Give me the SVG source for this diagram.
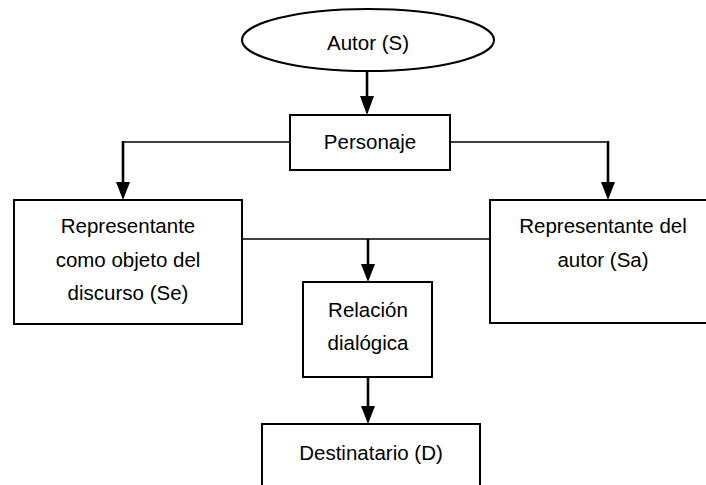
<svg xmlns="http://www.w3.org/2000/svg" width="706" height="485" viewBox="0 0 706 485">
<defs>
<style>
.n{fill:#fff;stroke:#000;stroke-width:2}
.t{font-family:"Liberation Sans",Arial,sans-serif;font-size:20.5px;fill:#000;text-anchor:middle}
.c{fill:none;stroke:#000;stroke-width:1.6}
.v{fill:none;stroke:#000;stroke-width:2.6}
.a{fill:#000;stroke:none}
</style>
</defs>
<rect width="706" height="485" fill="#fff"/>
<g id="connectors">
<line class="v" x1="367" y1="71" x2="367" y2="98"/>
<path class="a" d="M360,96 L374,96 L367,115 Z"/>
<line class="c" x1="290" y1="142" x2="123" y2="142"/>
<line class="v" x1="123" y1="141" x2="123" y2="184"/>
<path class="a" d="M116,182 L130,182 L123,200 Z"/>
<line class="c" x1="450" y1="142" x2="608" y2="142"/>
<line class="v" x1="608" y1="141" x2="608" y2="184"/>
<path class="a" d="M601,182 L615,182 L608,200 Z"/>
<line class="c" x1="242" y1="239" x2="490" y2="239"/>
<line class="v" x1="368" y1="239" x2="368" y2="266"/>
<path class="a" d="M361,264 L375,264 L368,282 Z"/>
<line class="v" x1="368" y1="377" x2="368" y2="408"/>
<path class="a" d="M361,406 L375,406 L368,424 Z"/>
</g>
<g id="autor">
<ellipse class="n" cx="368" cy="40" rx="126" ry="31"/>
<text class="t" x="368" y="50">Autor (S)</text>
</g>
<g id="personaje">
<rect class="n" x="290" y="115" width="160" height="55"/>
<text class="t" x="370" y="149">Personaje</text>
</g>
<g id="se">
<rect class="n" x="14" y="200" width="228" height="124"/>
<text class="t" x="128" y="233">Representante</text>
<text class="t" x="128" y="267">como objeto del</text>
<text class="t" x="128" y="300">discurso (Se)</text>
</g>
<g id="sa">
<rect class="n" x="490" y="200" width="230" height="123"/>
<text class="t" x="603" y="233">Representante del</text>
<text class="t" x="603" y="267">autor (Sa)</text>
</g>
<g id="relacion">
<rect class="n" x="303" y="282" width="129" height="95"/>
<text class="t" x="368" y="317">Relación</text>
<text class="t" x="368" y="350">dialógica</text>
</g>
<g id="destinatario">
<rect class="n" x="262" y="424" width="218" height="80"/>
<text class="t" x="371" y="460">Destinatario (D)</text>
</g>
</svg>
